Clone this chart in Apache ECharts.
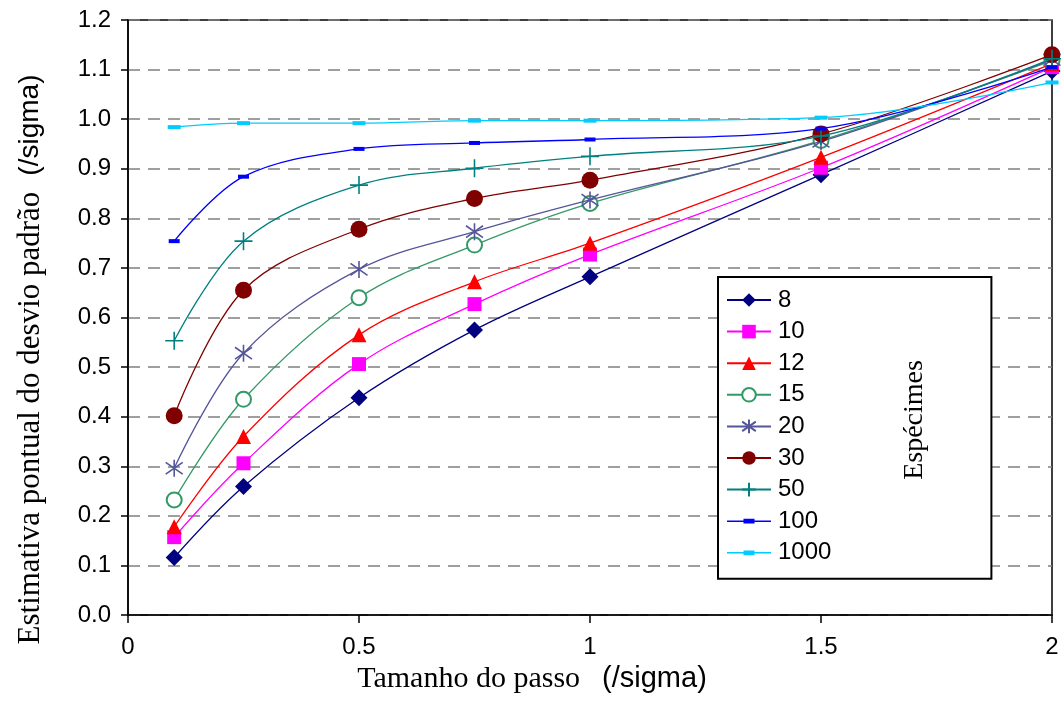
<!DOCTYPE html>
<html>
<head>
<meta charset="utf-8">
<script src="https://cdn.jsdelivr.net/npm/echarts@6/dist/echarts.min.js"></script>
<style>html,body{margin:0;padding:0;background:#fff}#c{width:1063px;height:706px}</style>
</head>
<body>
<div id="c"></div>
<script>
const xSteps = [0.1, 0.25, 0.5, 0.75, 1.0, 1.5, 2.0];
const seriesNames = ['8', '10', '12', '15', '20', '30', '50', '100', '1000'];
const s8    = [0.116, 0.259, 0.438, 0.575, 0.682, 0.888, 1.097];
const s10   = [0.157, 0.306, 0.506, 0.627, 0.727, 0.902, 1.105];
const s12   = [0.178, 0.360, 0.565, 0.672, 0.750, 0.923, 1.112];
const s15   = [0.232, 0.435, 0.640, 0.746, 0.830, 0.957, 1.118];
const s20   = [0.296, 0.528, 0.697, 0.773, 0.837, 0.955, 1.120];
const s30   = [0.402, 0.655, 0.778, 0.840, 0.877, 0.970, 1.130];
const s50   = [0.553, 0.754, 0.867, 0.901, 0.925, 0.966, 1.122];
const s100  = [0.754, 0.884, 0.940, 0.952, 0.959, 0.981, 1.105];
const s1000 = [0.984, 0.992, 0.992, 0.997, 0.997, 1.003, 1.074];
const yTickLabels = ['0.0','0.1','0.2','0.3','0.4','0.5','0.6','0.7','0.8','0.9','1.0','1.1','1.2'];
const legendTitle = 'Espécimes';

const allValues = [s8, s10, s12, s15, s20, s30, s50, s100, s1000];
const colors = ['#000080', '#FF00FF', '#FF0000', '#339966', '#55559A', '#800000', '#008080', '#0000FF', '#00CCFF'];
const PLUS = 'path://M5 0L5 10M0 5L10 5';
const STAR = 'path://M5 0L5 10M1 1.5L9 8.5M9 1.5L1 8.5';
const LEGEND_DASH = 'path://M0 1.7H44V3.1H0Z M16.5 0H27.5V4.8H16.5Z';
const symbols = ['diamond', 'rect', 'triangle', 'emptyCircle', STAR, 'circle', PLUS, 'rect', 'rect'];
const sizes = [17, 14, 15, 15, 17, 17, 18, [11, 4], [13, 4]];

const series = seriesNames.map((n, i) => {
  const sym = symbols[i];
  const stroked = (sym === PLUS || sym === STAR);
  return {
    name: n,
    type: 'line',
    smooth: 0.35,
    data: xSteps.map((x, j) => [x, allValues[i][j]]),
    symbol: sym,
    symbolSize: sizes[i],
    showAllSymbol: true,
    lineStyle: { color: colors[i], width: 1.3, type: 'solid' },
    itemStyle: stroked
      ? { color: colors[i], borderColor: colors[i], borderWidth: 1.6 }
      : (sym === 'emptyCircle' ? { color: colors[i], borderWidth: 1.4 } : { color: colors[i] }),
    emphasis: { disabled: true },
    z: 2 + i
  };
});

const legendData = seriesNames.map((n, i) => (i >= 7 ? { name: n, icon: LEGEND_DASH } : { name: n }));

const chart = echarts.init(document.getElementById('c'), null, { renderer: 'canvas' });
chart.setOption({
  animation: false,
  backgroundColor: '#fff',
  grid: { left: 128, right: 11, top: 20, bottom: 91, show: true, borderColor: '#000', borderWidth: 1.5, backgroundColor: 'transparent' },
  xAxis: {
    type: 'value', min: 0, max: 2, interval: 0.5,
    axisLine: { show: true, lineStyle: { color: '#000', width: 1.5 } },
    axisTick: { show: true, length: 8, lineStyle: { color: '#000', width: 1.5 } },
    axisLabel: { color: '#000', fontSize: 24, fontFamily: 'Liberation Sans, Arial', margin: 20 },
    splitLine: { show: false },
    name: '{a|Tamanho do passo}{s|}{b|(/sigma)}',
    nameLocation: 'middle',
    nameGap: 46,
    nameTextStyle: {
      padding: [0, 116, 0, 0],
      rich: {
        a: { fontFamily: 'Liberation Serif, Times New Roman, serif', fontSize: 30, color: '#000' },
        s: { width: 22 },
        b: { fontFamily: 'Liberation Sans, Arial', fontSize: 29, color: '#000' }
      }
    }
  },
  yAxis: {
    type: 'value', min: 0, max: 1.2, interval: 0.1,
    axisLine: { show: true, lineStyle: { color: '#000', width: 1.5 } },
    axisTick: { show: true, length: 7, lineStyle: { color: '#000', width: 1.5 } },
    axisLabel: { color: '#000', fontSize: 24, fontFamily: 'Liberation Sans, Arial', margin: 17,
      formatter: (v) => yTickLabels[Math.round(v * 10)] },
    splitLine: { show: true, lineStyle: { color: '#808080', width: 1.5, type: [12, 8] } },
    name: '{a|Estimativa pontual do desvio padrão}{s|}{b|(/sigma)}',
    nameLocation: 'middle',
    nameGap: 82,
    nameTextStyle: {
      padding: [0, 84, 0, 0],
      rich: {
        a: { fontFamily: 'Liberation Serif, Times New Roman, serif', fontSize: 31, color: '#000' },
        s: { width: 16 },
        b: { fontFamily: 'Liberation Sans, Arial', fontSize: 28, color: '#000' }
      }
    }
  },
  legend: {
    orient: 'vertical',
    left: 718, top: 277,
    padding: [11, 160, 14, 8],
    borderColor: '#000', borderWidth: 2,
    backgroundColor: '#fff',
    itemWidth: 44, itemHeight: 17, itemGap: 7.6,
    textStyle: { fontSize: 24, fontFamily: 'Liberation Sans, Arial', color: '#000', lineHeight: 24, padding: [0, 0, 0, 2] },
    data: legendData
  },
  graphic: [{
    type: 'text',
    x: 915, y: 420,
    rotation: Math.PI / 2,
    z: 100,
    style: { text: legendTitle, fontFamily: 'Liberation Serif, Times New Roman, serif', fontSize: 28, fill: '#000', align: 'center', verticalAlign: 'middle' }
  }],
  series: series
});
</script>
</body>
</html>
